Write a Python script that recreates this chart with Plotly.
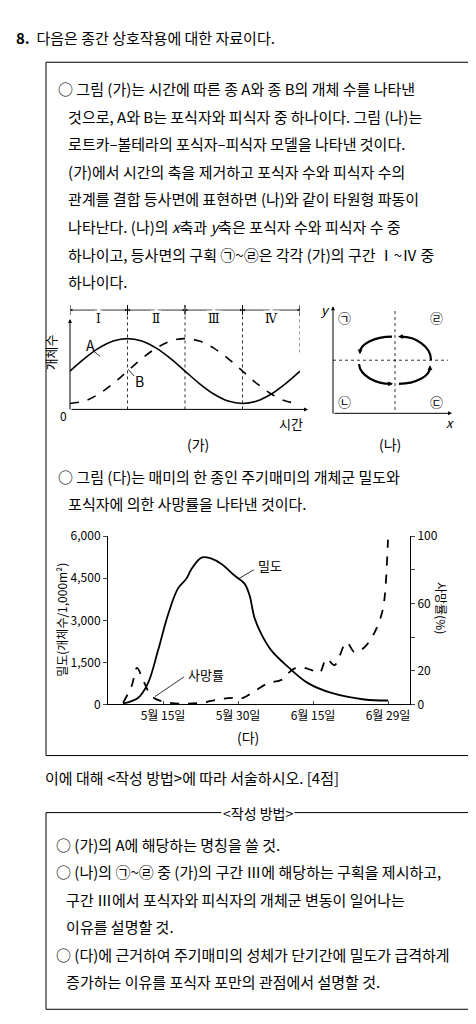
import plotly.graph_objects as go

W, H = 476, 1024
FONT = 'Noto Sans CJK KR'


def px(x):
    return x / W


def py(y):
    return 1 - y / H


# (가) population of A and B over four intervals
ga_t = [0, 0.25, 0.5, 0.75, 1, 1.25, 1.5, 1.75, 2, 2.25, 2.5, 2.75, 3, 3.25, 3.5, 3.75, 4]
ga_a = [0.433, 0.574, 0.692, 0.772, 0.80, 0.772, 0.692, 0.574, 0.433, 0.292, 0.174, 0.094, 0.067, 0.094, 0.174, 0.292, 0.433]
ga_b = [0.067, 0.094, 0.174, 0.292, 0.433, 0.574, 0.692, 0.772, 0.80, 0.772, 0.692, 0.574, 0.433, 0.292, 0.174, 0.094, 0.067]
intervals = ['Ⅰ', 'Ⅱ', 'Ⅲ', 'Ⅳ']

# (다) density and mortality, x = day counted from May 1
dens_day = [7, 10, 12, 14, 16, 18, 19.7, 20.7, 22.7, 24.7, 26.7, 29.3, 31.3, 32.3, 33.3, 34.7, 36.7, 40, 44, 48.7, 55.3, 60]
dens_val = [35, 230, 760, 1920, 3200, 4140, 4490, 4830, 5240, 5200, 5010, 4600, 4310, 3900, 3090, 2500, 1920, 1340, 760, 410, 175, 140]
mort_day = [7, 8.7, 9.8, 11, 12.7, 14.7, 18.7, 22.7, 26.7, 29.3, 31, 33.3, 36, 38.7, 40, 41.3, 43, 44.7, 46.3, 47.7, 49.3, 51.7, 53.3, 55.3, 57.3, 58.7, 59.3, 60]
mort_val = [1, 10.7, 21.7, 14.6, 4.9, 1.9, 0.4, 1, 3.3, 3.9, 3.9, 7.8, 12.6, 14.6, 18.4, 21.4, 21.9, 20.4, 18.8, 27.2, 23.3, 36.9, 31.1, 34, 42.7, 53.4, 63, 98]
date_ticks = [15, 30, 45, 60]
date_labels = ['5월 15일', '5월 30일', '6월 15일', '6월 29일']

fig = go.Figure()
fig.add_trace(go.Scatter(x=ga_t, y=ga_a, mode='lines', line=dict(color='black', width=1.6, shape='spline'),
                         xaxis='x', yaxis='y'))
fig.add_trace(go.Scatter(x=ga_t, y=ga_b, mode='lines', line=dict(color='black', width=1.6, dash='dash', shape='spline'),
                         xaxis='x', yaxis='y'))
fig.add_trace(go.Scatter(x=dens_day, y=dens_val, mode='lines', line=dict(color='black', width=1.8, shape='spline'),
                         xaxis='x3', yaxis='y3'))
fig.add_trace(go.Scatter(x=mort_day, y=mort_val, mode='lines', line=dict(color='black', width=1.8, dash='dash', shape='spline'),
                         xaxis='x3', yaxis='y4'))

hidden = dict(showgrid=False, zeroline=False, showticklabels=False, ticks='', showline=False)
fig.update_layout(
    width=W, height=H, margin=dict(l=0, r=0, t=0, b=0), showlegend=False,
    paper_bgcolor='white', plot_bgcolor='white',
    font=dict(family=FONT, color='black', size=14),
    xaxis=dict(domain=[px(62), px(292)], range=[0, 4], anchor='y', **hidden),
    yaxis=dict(domain=[py(398), py(308)], range=[0, 1], anchor='x', **hidden),
    xaxis2=dict(domain=[px(325), px(440)], range=[0, 1], anchor='y2', **hidden),
    yaxis2=dict(domain=[py(402), py(295)], range=[0, 1], anchor='x2', **hidden),
    xaxis3=dict(domain=[px(100), px(402)], range=[4, 64.4], anchor='y3', showgrid=False, zeroline=False,
                showline=True, linecolor='black', linewidth=1, tickvals=date_ticks, ticktext=date_labels,
                ticks='inside', ticklen=3, tickfont=dict(size=12)),
    yaxis3=dict(domain=[py(698), py(527)], range=[0, 6000], anchor='x3', showgrid=False, zeroline=False,
                showline=True, linecolor='black', tickvals=[0, 1500, 3000, 4500, 6000],
                ticktext=['0', '1,500', '3,000', '4,500', '6,000'], ticks='outside', ticklen=4,
                tickfont=dict(size=12)),
    yaxis4=dict(overlaying='y3', side='right', anchor='x3', range=[0, 100], showgrid=False, zeroline=False,
                showline=True, linecolor='black', tickvals=[0, 20, 40, 60, 80, 100],
                ticktext=['0', '20', '', '60', '', '100'], ticks='outside', ticklen=4, tickfont=dict(size=12)),
)

shapes = []
ann = []


def text(x, y, s, size=14, anchor='left', **kw):
    ann.append(dict(x=px(x), y=py(y), xref='paper', yref='paper', text=s, showarrow=False,
                    xanchor=anchor, yanchor='middle', font=dict(size=size, family=FONT), **kw))


def line(x0, y0, x1, y1, width=1, dash='solid'):
    shapes.append(dict(type='line', xref='paper', yref='paper', x0=px(x0), y0=py(y0), x1=px(x1), y1=py(y1),
                       line=dict(color='black', width=width, dash=dash)))


def arrow(x, y, ax, ay, size=0.8):
    ann.append(dict(x=px(x), y=py(y), xref='paper', yref='paper', ax=ax, ay=ay, text='', showarrow=True,
                    arrowhead=2, arrowsize=size, arrowwidth=1.2, arrowcolor='black'))


# header and boxes
text(6, 20, '<b>8.</b>  다음은 종간 상호작용에 대한 자료이다.', size=15)
shapes.append(dict(type='rect', xref='paper', yref='paper', x0=px(38), x1=px(463), y0=py(45), y1=py(750),
                   line=dict(color='black', width=1)))
para = [
    '○ 그림 (가)는 시간에 따른 종 A와 종 B의 개체 수를 나타낸',
    '   것으로, A와 B는 포식자와 피식자 중 하나이다. 그림 (나)는',
    '   로트카–볼테라의 포식자–피식자 모델을 나타낸 것이다.',
    '   (가)에서 시간의 축을 제거하고 포식자 수와 피식자 수의',
    '   관계를 결합 등사면에 표현하면 (나)와 같이 타원형 파동이',
    '   나타난다. (나)의 <i>x</i>축과 <i>y</i>축은 포식자 수와 피식자 수 중',
    '   하나이고, 등사면의 구획 ㉠~㉣은 각각 (가)의 구간 Ⅰ~Ⅳ 중',
    '   하나이다.',
]
for i, s in enumerate(para):
    text(48, 72 + 28 * i, s, size=15)

# (가) axes and decorations
ann.append(dict(x=px(62), y=py(306), xref='paper', yref='paper', ax=0, ay=92, text='', showarrow=True,
                arrowhead=2, arrowsize=0.8, arrowwidth=1, arrowcolor='black'))
ann.append(dict(x=px(300), y=py(398), xref='paper', yref='paper', ax=-238, ay=0, text='', showarrow=True,
                arrowhead=2, arrowsize=0.8, arrowwidth=1, arrowcolor='black'))
for k in [1, 2, 3, 4]:
    shapes.append(dict(type='line', xref='x', yref='paper', x0=k, x1=k, y0=py(398 if k < 4 else 340), y1=py(292),
                       line=dict(color='black', width=0.8, dash='dot')))
for k in range(5):
    shapes.append(dict(type='line', xref='x', yref='paper', x0=k, x1=k, y0=py(292), y1=py(302),
                       line=dict(color='black', width=1)))
for k, lab in enumerate(intervals):
    for end in (k, k + 1):
        ann.append(dict(x=end, y=py(297), xref='x', yref='paper', ax=k + 0.5, ay=0, axref='x',
                        text='', showarrow=True, arrowhead=2, arrowsize=0.6, arrowwidth=0.8, arrowcolor='black'))
    ann.append(dict(x=k + 0.5, y=py(297), xref='x', yref='paper', text=lab, showarrow=False, bgcolor='white',
                    font=dict(size=12, family='DejaVu Serif')))
text(42, 340, '개체수', size=13, anchor='center', textangle=-90)
text(55, 404, '0', size=12, anchor='center')
text(283, 412, '시간', size=13, anchor='center')
text(82, 333, 'A', size=14, anchor='center')
line(86, 339, 92, 344, width=0.8)
text(131, 369, 'B', size=14, anchor='center')
line(126, 364, 120, 357, width=0.8)
text(190, 433, '(가)', size=14, anchor='center')

# (나) axes, dotted centre lines, cycle arcs
ann.append(dict(x=px(325), y=py(293), xref='paper', yref='paper', ax=0, ay=109, text='', showarrow=True,
                arrowhead=2, arrowsize=0.8, arrowwidth=1, arrowcolor='black'))
ann.append(dict(x=px(444), y=py(402), xref='paper', yref='paper', ax=-119, ay=0, text='', showarrow=True,
                arrowhead=2, arrowsize=0.8, arrowwidth=1, arrowcolor='black'))
line(387, 298, 387, 402, width=0.8, dash='dot')
line(325, 348, 440, 348, width=0.8, dash='dot')


def arc(p0, c1, c2, p1):
    pts = [p0, c1, c2, p1]
    f = ['{:.4f},{:.4f}'.format(px(a), py(b)) for a, b in pts]
    shapes.append(dict(type='path', xref='paper', yref='paper', path='M{} C{} {} {}'.format(*f),
                       line=dict(color='black', width=2.2)))


arc((423, 348), (423, 334), (408, 324), (393, 324))
arc((384, 324), (366, 324), (352, 332), (352, 340))
arc((351, 352), (352, 364), (368, 372), (383, 372))
arc((391, 372), (408, 372), (422, 364), (422, 355))
arrow(390, 324, 6, 0)
arrow(352, 342, 0, -6)
arrow(385, 372, -6, 0)
arrow(422, 353, 0, 6)
text(336, 305, '㉠', size=13, anchor='center')
text(428, 305, '㉣', size=13, anchor='center')
text(336, 390, '㉡', size=13, anchor='center')
text(428, 390, '㉢', size=13, anchor='center')
text(317, 296, '<i>y</i>', size=13, anchor='center')
text(442, 411, '<i>x</i>', size=13, anchor='center')
text(382, 433, '(나)', size=14, anchor='center')

# second bullet
text(48, 466, '○ 그림 (다)는 매미의 한 종인 주기매미의 개체군 밀도와', size=15)
text(48, 494, '   포식자에 의한 사망률을 나타낸 것이다.', size=15)

# (다) labels
text(54, 612, '밀도(개체수/1,000m²)', size=12, anchor='center', textangle=-90)
text(434, 600, '사망률(%)', size=12, anchor='center', textangle=90)
text(248, 557, '밀도', size=13)
line(246, 561, 231, 570, width=0.8)
text(178, 668, '사망률', size=13)
line(176, 670, 147, 690, width=0.8)
text(240, 731, '(다)', size=14, anchor='center')

# question and writing rules
text(35, 772, '이에 대해 <작성 방법>에 따라 서술하시오. [4점]', size=15)
shapes.append(dict(type='rect', xref='paper', yref='paper', x0=px(38), x1=px(463), y0=py(808), y1=py(1008),
                   line=dict(color='black', width=1)))
text(250, 808, '<작성 방법>', size=14, anchor='center', bgcolor='white')
rules = [
    '○ (가)의 A에 해당하는 명칭을 쓸 것.',
    '○ (나)의 ㉠~㉣ 중 (가)의 구간 Ⅲ에 해당하는 구획을 제시하고,',
    '   구간 Ⅲ에서 포식자와 피식자의 개체군 변동이 일어나는',
    '   이유를 설명할 것.',
    '○ (다)에 근거하여 주기매미의 성체가 단기간에 밀도가 급격하게',
    '   증가하는 이유를 포식자 포만의 관점에서 설명할 것.',
]
for i, s in enumerate(rules):
    text(46, 840 + 28 * i, s, size=15)

fig.update_layout(shapes=shapes, annotations=ann)
fig.write_html('out.html')
